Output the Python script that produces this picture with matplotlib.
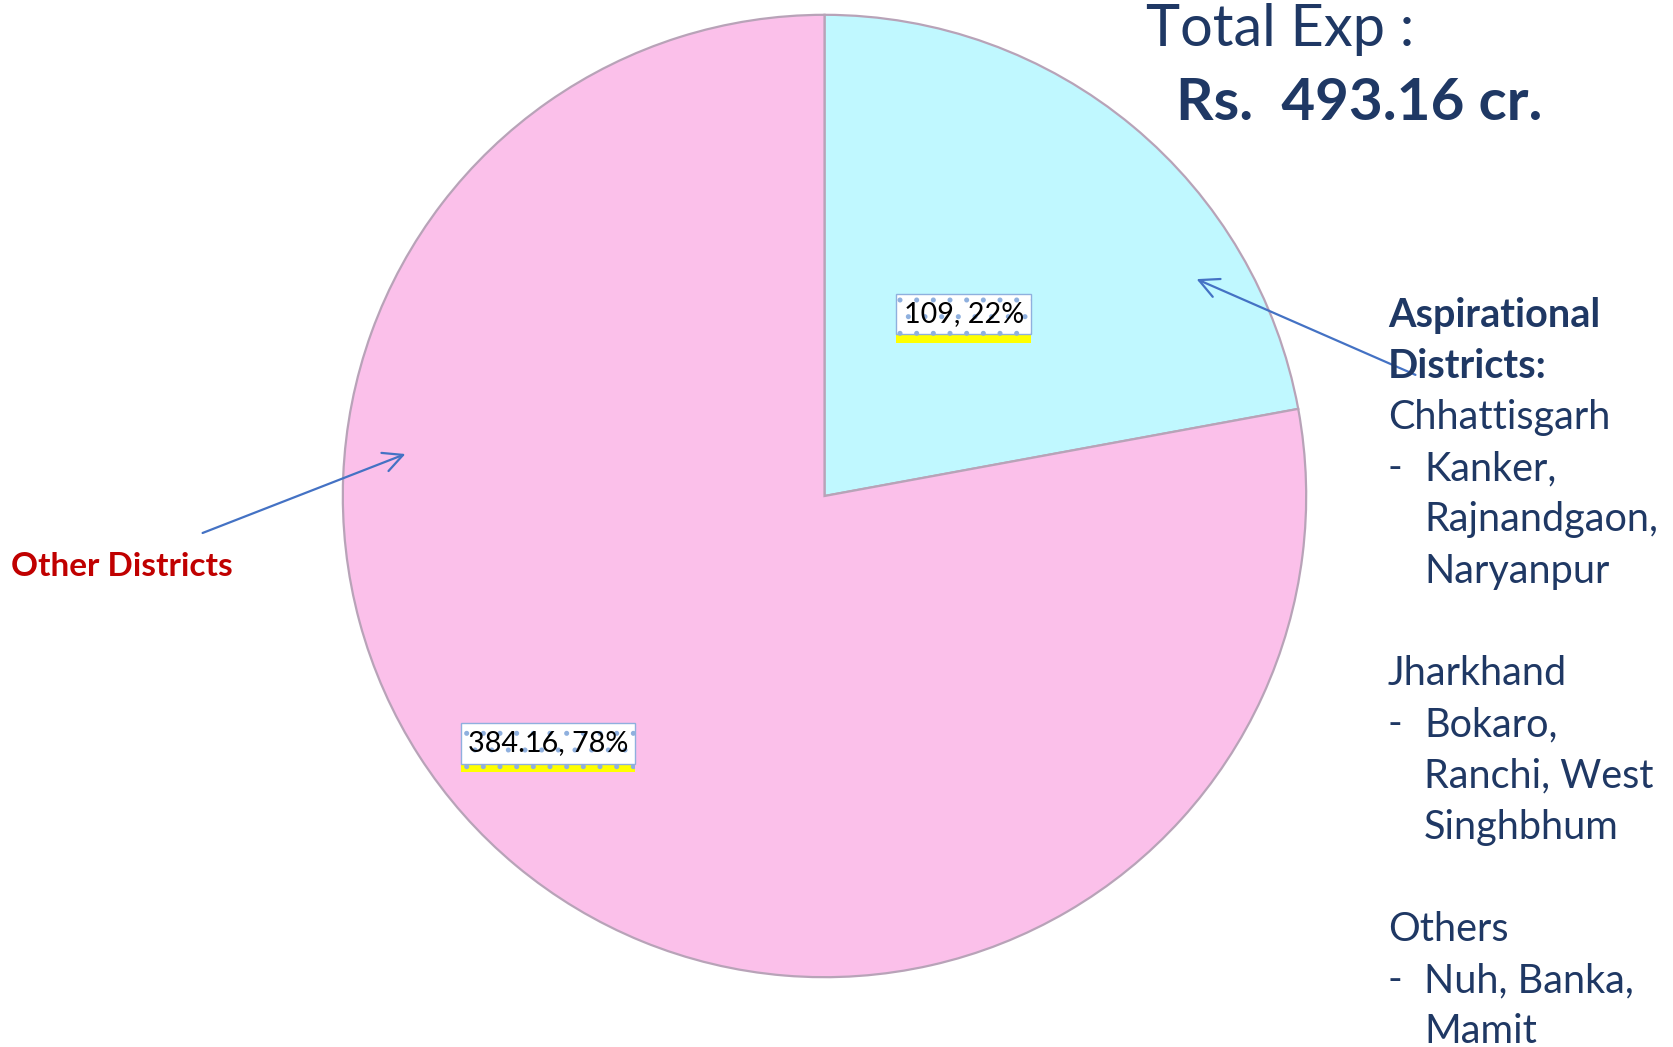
import matplotlib
matplotlib.use("Agg")
import matplotlib.pyplot as plt
from matplotlib.patches import FancyArrowPatch
from matplotlib import patheffects as pe

# ---- data ----
categories = ["Aspirational Districts", "Other Districts"]
values = [109, 384.16]
percents = [22, 78]
colors = ["#C0F8FF", "#FBC0EA"]
total_label = "Rs.  493.16 cr."
title_label = "Total Exp :"
side_lines = [
    ("Aspirational", "bold", False),
    ("Districts:", "bold", False),
    ("Chhattisgarh", "normal", False),
    ("Kanker,", "normal", True),
    ("Rajnandgaon,", "normal", None),
    ("Naryanpur", "normal", None),
    ("", "normal", False),
    ("Jharkhand", "normal", False),
    ("Bokaro,", "normal", True),
    ("Ranchi, West", "normal", None),
    ("Singhbhum", "normal", None),
    ("", "normal", False),
    ("Others", "normal", False),
    ("Nuh, Banka,", "normal", True),
    ("Mamit", "normal", None),
]

W, H = 1674, 1047
DPI = 100
plt.rcParams['font.family'] = ['Lato', 'DejaVu Sans']
plt.rcParams['hatch.linewidth'] = 1.2
fig = plt.figure(figsize=(W / DPI, H / DPI), dpi=DPI)
fig.patch.set_facecolor("white")

# pie axes placed in pixel box
left, right, top, bottom = 338, 1311, 10, 982
ax = fig.add_axes([left / W, (H - bottom) / H, (right - left) / W, (bottom - top) / H])
wedges, _ = ax.pie(values, colors=colors, startangle=90, counterclock=False,
                   wedgeprops=dict(edgecolor="#b8a3b8", linewidth=1.6))
ax.set_xlim(-1.01, 1.01)
ax.set_ylim(-1.01, 1.01)
ax.set_aspect("auto")
ax.axis("off")

# data labels
label_pos = [(0.289, 0.378), (-0.574, -0.514)]
for v, p, (lx, ly) in zip(values, percents, label_pos):
    txt = f"{v:g}, {p}%"
    t = ax.text(lx, ly, txt, ha="center", va="center", fontsize=20.7, color="black",
                bbox=dict(boxstyle="square,pad=0.25", fc="white", ec="#8FB0DE", lw=1.0,
                          hatch="."), zorder=6)
    t.get_bbox_patch().set_path_effects([
        pe.SimplePatchShadow(offset=(0, -6), shadow_rgbFace="#FFFF00", alpha=1.0),
        pe.Normal()])

def fx(x):
    return x / W

def fy(y):
    return 1 - y / H

navy = "#1F3864"
fig.text(fx(1146), fy(29), title_label, fontsize=41.6, color=navy, ha="left", va="center")
fig.text(fx(1176), fy(103), total_label, fontsize=42, fontweight="bold", color=navy,
         ha="left", va="center")

# side text
y0, dy = 315, 51.2
for i, (s, w, dash) in enumerate(side_lines):
    y = y0 + i * dy
    if not s:
        continue
    if dash is True:
        fig.text(fx(1388), fy(y), "-", fontsize=28.5, color=navy, ha="left", va="center")
    x = 1424 if dash is not False else 1388
    fig.text(fx(x), fy(y), s, fontsize=28.5, fontweight=w, color=navy, ha="left", va="center")

fig.text(fx(11), fy(566), categories[1], fontsize=24, fontweight="bold", color="#C00000",
         ha="left", va="center")

# arrows
arrow_kw = dict(arrowstyle="->,head_length=0.7,head_width=0.35", color="#4472C4", lw=1.6,
                mutation_scale=20, transform=None)
fig.add_artist(FancyArrowPatch((1418, H - 376), (1194, H - 278), **arrow_kw))
fig.add_artist(FancyArrowPatch((200, H - 534), (408, H - 453), **arrow_kw))

fig.savefig("out.png", dpi=DPI, facecolor="white")
